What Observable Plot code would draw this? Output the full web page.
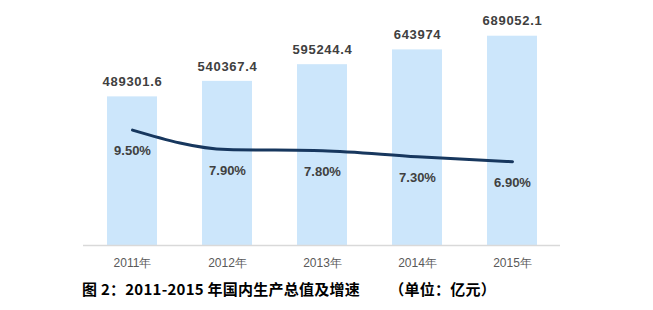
<!DOCTYPE html>
<html>
<head>
<meta charset="utf-8">
<script src="https://cdn.jsdelivr.net/npm/d3@7"></script>
<script src="https://cdn.jsdelivr.net/npm/@observablehq/plot@0.6"></script>
<style>
  body { margin: 0; background: #fff; }
  #caption { font-family: "Noto Sans CJK SC", "Liberation Sans", sans-serif; font-weight: bold; font-size: 15px; color: #000; padding-left: 82px; margin-top: 4px; white-space: pre; line-height: 20px; letter-spacing: 0.25px; }
  .vlabel text { letter-spacing: 0.7px; }
</style>
</head>
<body>
<div id="chart"></div>
<div id="caption"></div>
<script>
const years = ["2011年", "2012年", "2013年", "2014年", "2015年"];
const gdp = [489301.6, 540367.4, 595244.4, 643974, 689052.1];
const gdpLabels = ["489301.6", "540367.4", "595244.4", "643974", "689052.1"];
const growth = [9.5, 7.9, 7.8, 7.3, 6.9];
const growthLabels = ["9.50%", "7.90%", "7.80%", "7.30%", "6.90%"];
const captionText = "图 2：2011-2015 年国内生产总值及增速        （单位：亿元）";

const yMax = 800000;   // primary axis max (亿元)
const rateMax = 20;    // secondary axis max (%)
const k = yMax / rateMax;

const data = years.map((year, i) => ({
  year, gdp: gdp[i], gdpLabel: gdpLabels[i],
  rate: growth[i], rateY: growth[i] * k, rateLabel: growthLabels[i]
}));

const font = "'Liberation Sans', Arial, sans-serif";

const chart = Plot.plot({
  width: 653,
  height: 275,
  marginLeft: 83,
  marginRight: 93,
  marginTop: 2,
  marginBottom: 30,
  style: { fontFamily: font, background: "#fff" },
  x: { domain: years, paddingInner: 0.475, paddingOuter: 0.2375, label: null, tickSize: 0, tickPadding: 12 },
  y: { domain: [0, yMax], axis: null },
  marks: [
    Plot.barY(data, { x: "year", y: "gdp", fill: "#cce6fb" }),
    Plot.ruleY([0], { stroke: "#d9d9d9", strokeWidth: 1.5 }),
    Plot.text(data, { x: "year", y: "gdp", text: "gdpLabel", dy: -15, fontSize: 13, fontWeight: "bold", fill: "#404040", className: "vlabel" }),
    Plot.line(data, { x: "year", y: "rateY", stroke: "#17375e", strokeWidth: 3, curve: "monotone-x" }),
    Plot.text(data, { x: "year", y: "rateY", text: "rateLabel", dy: 21, fontSize: 13, fontWeight: "bold", fill: "#404040" }),
    Plot.axisX({ tickSize: 0, tickPadding: 13, fontSize: 12, fill: "#595959", label: null })
  ]
});
document.getElementById("chart").appendChild(chart);
document.getElementById("caption").textContent = captionText;
</script>
</body>
</html>
